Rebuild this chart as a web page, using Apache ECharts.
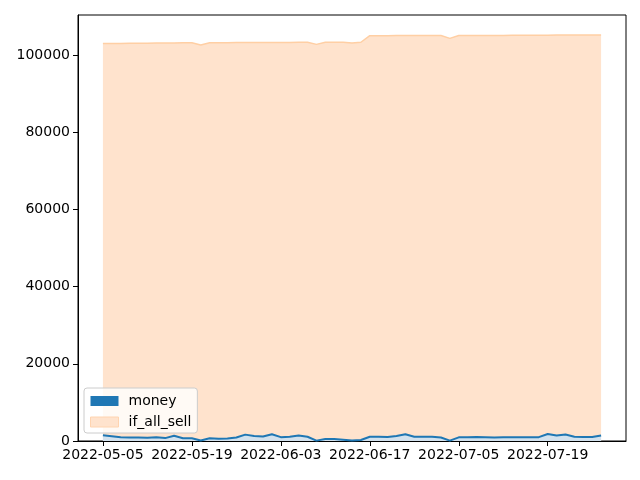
<!DOCTYPE html>
<html>
<head>
<meta charset="utf-8">
<script src="https://cdn.jsdelivr.net/npm/echarts@6/dist/echarts.min.js"></script>
<style>html,body{margin:0;padding:0;background:#fff}#c{width:640px;height:480px}</style>
</head>
<body>
<div id="c"></div>
<script>
var dates = [
'2022-05-05','2022-05-06','2022-05-09','2022-05-10','2022-05-11','2022-05-12','2022-05-13','2022-05-16','2022-05-17','2022-05-18',
'2022-05-19','2022-05-20','2022-05-23','2022-05-24','2022-05-25','2022-05-26','2022-05-27','2022-05-31','2022-06-01','2022-06-02',
'2022-06-03','2022-06-06','2022-06-07','2022-06-08','2022-06-09','2022-06-10','2022-06-13','2022-06-14','2022-06-15','2022-06-16',
'2022-06-17','2022-06-21','2022-06-22','2022-06-23','2022-06-24','2022-06-27','2022-06-28','2022-06-29','2022-06-30','2022-07-01',
'2022-07-05','2022-07-06','2022-07-07','2022-07-08','2022-07-11','2022-07-12','2022-07-13','2022-07-14','2022-07-15','2022-07-18',
'2022-07-19','2022-07-20','2022-07-21','2022-07-22','2022-07-25','2022-07-26','2022-07-27'
];
var money = [
1500,1250,1000,900,900,850,1000,750,1350,700,
700,150,700,600,650,900,1650,1300,1150,1750,
1000,1100,1400,1100,100,500,500,300,100,250,
1100,1100,1050,1300,1750,1100,1100,1100,900,100,
950,950,1050,1000,900,1000,1000,1000,1000,1000,
1800,1400,1700,1100,1050,1050,1450
];
var ifAllSell = [
103000,103000,103000,103050,103050,103050,103100,103100,103100,103150,
103150,102600,103150,103150,103150,103200,103200,103200,103200,103250,
103250,103250,103300,103300,102750,103300,103300,103300,103100,103300,
105000,105000,105000,105050,105050,105050,105050,105050,105050,104300,
105050,105050,105050,105050,105050,105050,105100,105100,105100,105100,
105100,105150,105150,105150,105200,105200,105200
];
var xTicks = [0,10,20,30,40,50];
var yTicks = [0,20000,40000,60000,80000,100000];

function pts(arr){ return arr.map(function(v,i){ return [i, v]; }); }

var chart = echarts.init(document.getElementById('c'), null, {renderer:'canvas'});
var font = 'DejaVu Sans';
chart.setOption({
  animation: false,
  textStyle: {fontFamily: font},
  grid: {left: 78, right: 14, top: 15, bottom: 39, show: true, borderColor: '#000', borderWidth: 1, backgroundColor: 'transparent'},
  xAxis: {
    type: 'value', min: -2.8, max: 58.8,
    splitLine: {show: false},
    axisLine: {show: true, onZero: false, lineStyle: {color: '#000', width: 1}},
    axisTick: {show: true, inside: false, length: 5, lineStyle: {color: '#000'}, customValues: xTicks},
    axisLabel: {color: '#000', fontSize: 14, fontFamily: font, margin: 7, customValues: xTicks,
      formatter: function(v){ return dates[Math.round(v)] || ''; }}
  },
  yAxis: {
    type: 'value', min: 0, max: 110355,
    splitLine: {show: false},
    axisLine: {show: true, onZero: false, lineStyle: {color: '#000', width: 1}},
    axisTick: {show: true, inside: false, length: 5, lineStyle: {color: '#000'}, customValues: yTicks},
    axisLabel: {color: '#000', fontSize: 14, fontFamily: font, margin: 8, customValues: yTicks,
      formatter: function(v){ return String(Math.round(v)); }}
  },
  legend: {
    orient: 'vertical', left: 84, top: 388,
    backgroundColor: 'rgba(255,255,255,0.8)', borderColor: '#cccccc', borderWidth: 1, borderRadius: 3,
    padding: [6, 6, 4, 6], itemGap: 7, itemWidth: 28, itemHeight: 10,
    textStyle: {fontSize: 14, fontFamily: font, color: '#000', padding: [0, 0, 0, 5]},
    data: [
      {name: 'money', icon: 'rect', itemStyle: {color: '#1f77b4'}},
      {name: 'if_all_sell', icon: 'rect', itemStyle: {color: '#ffe3cd', borderColor: '#ffd4b0', borderWidth: 1}}
    ]
  },
  series: [
    {
      name: 'if_all_sell', type: 'line', data: pts(ifAllSell), symbol: 'none', z: 2,
      lineStyle: {color: '#ffcfa4', width: 1.5},
      itemStyle: {color: '#ffe3cd'},
      areaStyle: {color: '#ffe3cd', opacity: 1}
    },
    {
      name: 'money', type: 'line', data: pts(money), symbol: 'none', z: 3,
      lineStyle: {color: '#1f77b4', width: 2},
      itemStyle: {color: '#1f77b4'},
      areaStyle: {color: '#d3e2ee', opacity: 1}
    }
  ]
});
</script>
</body>
</html>
